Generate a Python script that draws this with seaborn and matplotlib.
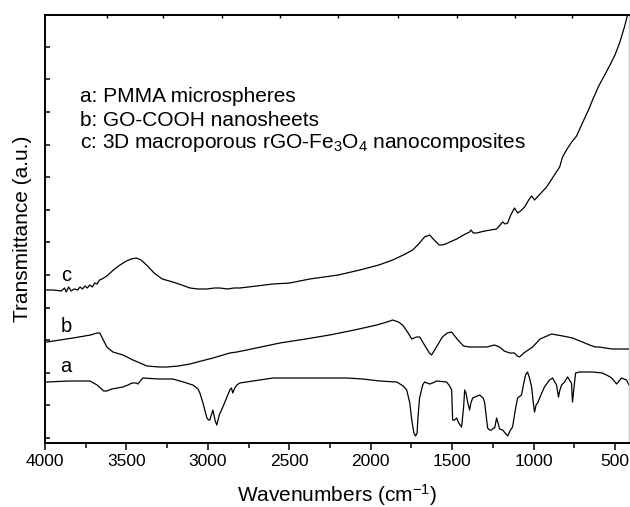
import numpy as np
import pandas as pd
import matplotlib
matplotlib.use("Agg")
import matplotlib.pyplot as plt
from matplotlib.ticker import MultipleLocator
import seaborn as sns

# ---------------- data (wavenumber cm^-1, transmittance a.u.) ----------------
wn_a = [4000, 3988, 3850, 3724, 3680, 3640, 3620, 3590, 3558, 3521, 3490, 3466, 3440, 3430,
        3410, 3399, 3300, 3215, 3150, 3092, 3060, 3049, 3030, 3006, 2995, 2988, 2975, 2969,
        2955, 2945, 2930, 2908, 2880, 2865, 2855, 2847, 2835, 2822, 2804, 2600, 2454, 2300,
        2147, 2050, 1945, 1840, 1800, 1779, 1760, 1748, 1735, 1725, 1715, 1711, 1700, 1681,
        1669, 1638, 1620, 1595, 1534, 1515, 1503, 1497, 1485, 1472, 1460, 1442, 1430, 1423,
        1415, 1405, 1393, 1385, 1374, 1331, 1310, 1301, 1282, 1270, 1258, 1245, 1239, 1227,
        1215, 1209, 1190, 1175, 1159, 1145, 1129, 1110, 1098, 1074, 1060, 1049, 1037, 1025,
        1012, 1000, 994, 985, 975, 950, 933, 915, 902, 883, 870, 859, 847, 840, 828, 810,
        791, 780, 767, 761, 752, 742, 718, 638, 577, 540, 521, 505, 490, 475, 460, 429, 414]
t_a = [61, 61, 62, 62, 58, 52, 52, 54, 55, 56, 58, 60, 60, 59,
       63, 65, 64, 64, 61, 58, 54, 50, 40, 25, 23, 23, 30, 33,
       22, 18, 28, 36, 47, 53, 55, 50, 55, 58, 60, 65, 65, 65,
       65, 64, 62, 61, 57, 53, 40, 23, 10, 7, 10, 23, 45, 58,
       61, 59, 60, 62, 61, 57, 53, 23, 23, 25, 20, 16, 35, 53,
       50, 41, 33, 40, 45, 48, 45, 41, 15, 13, 13, 15, 15, 25,
       18, 14, 13, 10, 7, 12, 16, 35, 45, 48, 60, 68, 71, 65,
       56, 38, 31, 38, 40, 50, 56, 60, 63, 65, 61, 58, 46, 52, 58, 61,
       66, 63, 60, 41, 55, 70, 71, 71, 70, 67, 65, 62, 59, 62, 65, 63, 58]

wn_b = [4000, 3988, 3828, 3720, 3681, 3663, 3645, 3620, 3583, 3521, 3460, 3374, 3300, 3251,
        3180, 3110, 3040, 2969, 2865, 2822, 2761, 2558, 2400, 2252, 2100, 1963, 1900, 1865,
        1830, 1804, 1770, 1748, 1720, 1699, 1670, 1640, 1626, 1600, 1560, 1530, 1503, 1470,
        1430, 1393, 1340, 1288, 1240, 1209, 1180, 1147, 1117, 1100, 1086, 1060, 1006, 960,
        890, 820, 761, 700, 656, 620, 595, 560, 515, 414]
t_b = [101, 101, 105, 108, 110, 110, 104, 96, 91, 88, 83, 77, 76, 76,
       77, 79, 82, 85, 90, 91, 93, 100, 104, 108, 113, 118, 121, 123,
       121, 118, 110, 104, 106, 106, 98, 90, 88, 95, 106, 110, 111, 104,
       97, 96, 96, 96, 98, 96, 92, 90, 90, 87, 86, 90, 96, 104,
       109, 107, 105, 101, 98, 96, 96, 95, 94, 94]

wn_c = [4000, 3950, 3900, 3880, 3870, 3855, 3840, 3820, 3800, 3785, 3770, 3755, 3740, 3725,
        3710, 3695, 3680, 3665, 3650, 3620, 3580, 3540, 3500, 3470, 3440, 3410, 3370, 3330,
        3280, 3215, 3160, 3110, 3060, 3006, 2960, 2926, 2880, 2840, 2804, 2700, 2600, 2497,
        2374, 2200, 2067, 1950, 1865, 1800, 1742, 1700, 1670, 1638, 1610, 1580, 1564, 1540,
        1500, 1472, 1430, 1393, 1385, 1370, 1350, 1300, 1227, 1200, 1190, 1175, 1159, 1140,
        1117, 1098, 1080, 1055, 1030, 1012, 994, 960, 920, 880, 840, 822, 798, 770, 736,
        700, 660, 638, 630, 624, 600, 560, 534, 500, 472, 442, 423, 418]
t_c = [153, 153, 152, 155, 151, 156, 152, 154, 153, 156, 154, 157, 155, 158,
       156, 160, 159, 163, 164, 167, 173, 178, 182, 184, 185, 183, 177, 170,
       164, 161, 158, 155, 154, 154, 155, 155, 154, 155, 155, 157, 159, 160,
       164, 168, 173, 178, 183, 188, 193, 200, 206, 208, 203, 198, 198, 199,
       202, 204, 208, 211, 213, 210, 210, 212, 214, 219, 221, 219, 220, 228,
       235, 230, 232, 236, 243, 247, 243, 249, 256, 266, 276, 286, 293, 300, 307,
       320, 334, 343, 346, 348, 357, 369, 377, 388, 400, 416, 428, 428]

curve_labels = ["a", "b", "c"]
curve_label_wn = [3870, 3870, 3870]
curve_label_t = [76, 117, 168]

legend_lines = ["a: PMMA microspheres",
                "b: GO-COOH nanosheets",
                r"c: 3D macroporous rGO-Fe$_3$O$_4$ nanocomposites"]

x_major = [4000, 3500, 3000, 2500, 2000, 1500, 1000, 500]
top_ticks = [3620, 3276, 2914, 2558, 2202, 1834, 1472, 1117, 761]

# ---------------- style ----------------
sns.set_style("ticks")
plt.rcParams["font.family"] = ["Liberation Sans", "DejaVu Sans"]
plt.rcParams["mathtext.fontset"] = "custom"
plt.rcParams["mathtext.rm"] = "Liberation Sans"
plt.rcParams["mathtext.it"] = "Liberation Sans:italic"
plt.rcParams["mathtext.bf"] = "Liberation Sans:bold"
for key in ["text.color", "axes.labelcolor", "xtick.color", "ytick.color", "axes.edgecolor"]:
    plt.rcParams[key] = "black"

fig = plt.figure(figsize=(6.3, 5.07), dpi=100)
ax = fig.add_axes([45 / 630, 1 - 443 / 507, 584 / 630, 428 / 507])

frames = []
for name, wn, t in [("a", wn_a, t_a), ("b", wn_b, t_b), ("c", wn_c, t_c)]:
    frames.append(pd.DataFrame({"wn": wn, "t": t, "s": name}))
df = pd.concat(frames, ignore_index=True)

for name in ["a", "b", "c"]:
    sub = df[df["s"] == name]
    sns.lineplot(data=sub, x="wn", y="t", sort=False, estimator=None,
                 color="black", lw=0.9, ax=ax)

ax.set_xlim(4000, 414)
ax.set_ylim(0, 428)
ax.set_xticks(x_major)
ax.xaxis.set_minor_locator(MultipleLocator(250))
ax.yaxis.set_major_locator(MultipleLocator(32.6, offset=5))
ax.set_yticklabels([])
ax.tick_params(axis="x", which="major", direction="out", length=5, width=1.1,
               labelsize=12.5, pad=3)
ax.tick_params(axis="x", which="minor", direction="out", length=3.5, width=1.1)
ax.tick_params(axis="y", which="major", direction="in", length=3.5, width=1.1)

for side in ["left", "bottom", "top"]:
    ax.spines[side].set_linewidth(1.4)
    ax.spines[side].set_color("black")
ax.spines["right"].set_color("#c8c8c8")
ax.spines["right"].set_linewidth(1.0)

sec = ax.secondary_xaxis("top")
sec.set_xticks(top_ticks)
sec.set_xticklabels([])
sec.tick_params(direction="in", length=2, width=1.0)
sec.spines["top"].set_visible(False)

ax.set_xlabel(r"Wavenumbers (cm$^{-1}$)", fontsize=15, labelpad=9)
ax.set_ylabel("Transmittance (a.u.)", fontsize=15, labelpad=6)

for lab, x, y in zip(curve_labels, curve_label_wn, curve_label_t):
    ax.text(x, y, lab, fontsize=14.5, ha="center", va="center")

for i, line in enumerate(legend_lines):
    ax.text((80 - 45) / 584, (443 - 97 - 23 * i) / 428, line, transform=ax.transAxes,
            fontsize=15, ha="left", va="center")

fig.savefig("out.png", dpi=100)
